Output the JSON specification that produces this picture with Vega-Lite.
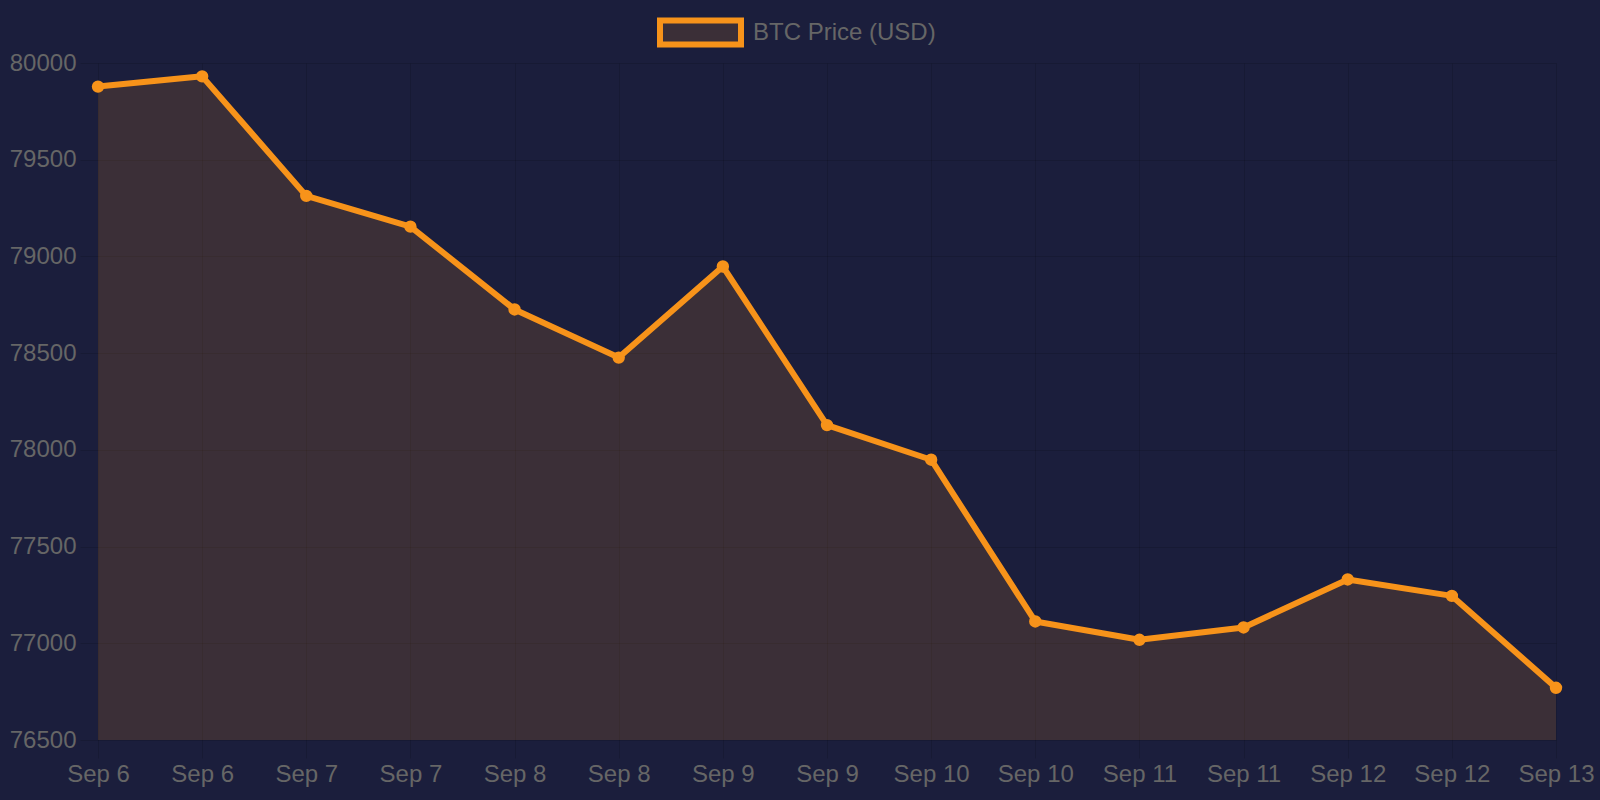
{
  "$schema": "https://vega.github.io/schema/vega-lite/v6.json",
  "autosize": "none",
  "width": 1458,
  "height": 677,
  "padding": {"left": 98, "top": 63, "right": 44, "bottom": 60},
  "background": "#1b1e3c",
  "config": {
    "view": {"stroke": null},
    "font": "Liberation Sans",
    "axis": {
      "grid": true,
      "gridColor": "#000000",
      "gridOpacity": 0.12,
      "tickColor": "#000000",
      "tickOpacity": 0.12,
      "tickSize": 18,
      "domain": false,
      "labelColor": "#666666",
      "labelFontSize": 24,
      "labelFont": "Liberation Sans",
      "title": null
    }
  },
  "data": {
    "values": [
      {"time": "Sep 6 00:00", "price": 79878},
      {"time": "Sep 6 12:00", "price": 79931},
      {"time": "Sep 7 00:00", "price": 79313},
      {"time": "Sep 7 12:00", "price": 79154},
      {"time": "Sep 8 00:00", "price": 78726},
      {"time": "Sep 8 12:00", "price": 78477},
      {"time": "Sep 9 00:00", "price": 78948},
      {"time": "Sep 9 12:00", "price": 78128},
      {"time": "Sep 10 00:00", "price": 77949},
      {"time": "Sep 10 12:00", "price": 77113},
      {"time": "Sep 11 00:00", "price": 77018},
      {"time": "Sep 11 12:00", "price": 77082},
      {"time": "Sep 12 00:00", "price": 77330},
      {"time": "Sep 12 12:00", "price": 77245},
      {"time": "Sep 13 00:00", "price": 76770}
    ]
  },
  "encoding": {
    "x": {
      "field": "time",
      "type": "ordinal",
      "sort": null,
      "scale": {"type": "point", "padding": 0},
      "axis": {
        "grid": true,
        "labelAngle": 0,
        "labelPadding": 4,
        "labelExpr": "split(datum.label, ' ')[0] + ' ' + split(datum.label, ' ')[1]"
      }
    },
    "y": {
      "field": "price",
      "type": "quantitative",
      "scale": {"domain": [76500, 80000], "zero": false, "nice": false},
      "axis": {"values": [76500, 77000, 77500, 78000, 78500, 79000, 79500, 80000], "format": "d", "labelPadding": 4}
    }
  },
  "layer": [
    {
      "mark": {"type": "area", "line": false},
      "encoding": {
        "y2": {"datum": 76500},
        "fill": {
          "datum": "BTC Price (USD)",
          "type": "nominal",
          "scale": {"range": ["rgba(247,147,26,0.15)"]},
          "legend": {
            "title": null,
            "orient": "none",
            "legendX": 559,
            "legendY": -74,
            "symbolType": "M-1,-0.296H1V0.296H-1Z",
            "symbolSize": 6561,
            "symbolStrokeColor": "#f7931a",
            "symbolStrokeWidth": 6,
            "labelFontSize": 24,
            "labelColor": "#666666",
            "labelFont": "Liberation Sans",
            "labelLimit": 400,
            "labelOffset": 9
          }
        }
      }
    },
    {
      "mark": {"type": "line", "color": "#f7931a", "strokeWidth": 6, "strokeJoin": "round"}
    },
    {
      "mark": {"type": "point", "filled": true, "color": "#f7931a", "size": 154, "opacity": 1}
    }
  ]
}
